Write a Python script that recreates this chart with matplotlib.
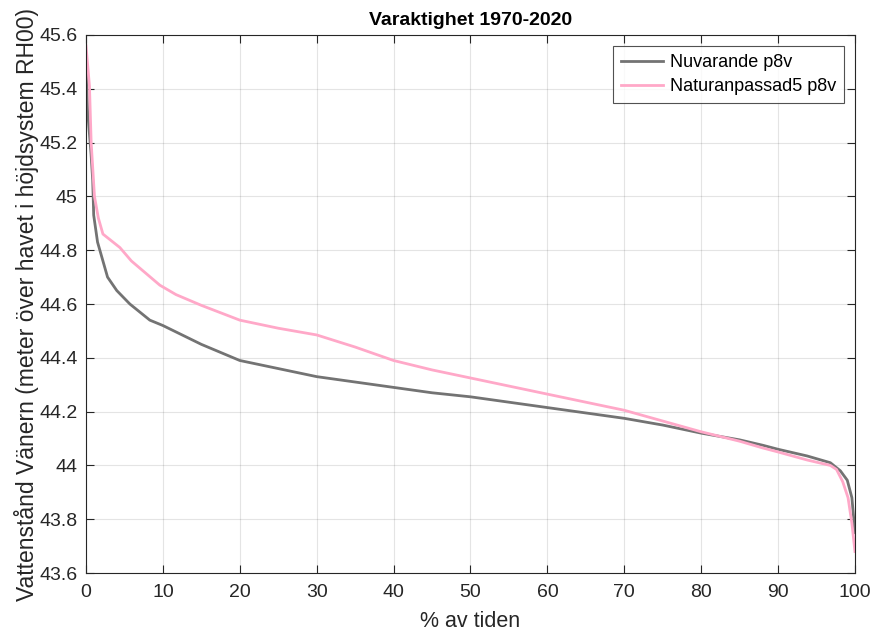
import numpy as np
import matplotlib
matplotlib.use("Agg")
import matplotlib.pyplot as plt
from matplotlib.ticker import FuncFormatter

plt.rcParams['font.family'] = ['Liberation Sans', 'DejaVu Sans']

# duration curves (x = % av tiden, y = level in m)
x_nuv = [0, 0.2, 0.65, 0.87, 1.0, 1.5, 2.8, 4.0, 5.7, 8.3, 10, 15, 20, 25, 30,
         35, 40, 45, 50, 55, 60, 65, 70, 75, 80, 85, 88, 90, 93.8, 96.8, 98.1,
         99.0, 99.6, 100]
y_nuv = [45.50, 45.32, 45.16, 45.06, 44.93, 44.83, 44.70, 44.65, 44.60, 44.54,
         44.52, 44.45, 44.39, 44.36, 44.33, 44.31, 44.29, 44.27, 44.255, 44.235,
         44.215, 44.195, 44.175, 44.15, 44.12, 44.095, 44.075, 44.06, 44.035,
         44.01, 43.98, 43.945, 43.88, 43.75]

x_nat = [0, 0.45, 0.67, 1.1, 1.6, 2.2, 4.4, 5.9, 9.6, 11.7, 15, 20, 25, 30, 35,
         40, 45, 50, 55, 60, 65, 70, 75, 80, 85, 88, 90, 93.8, 96.8, 97.6, 98.4,
         99.1, 99.6, 100]
y_nat = [45.56, 45.41, 45.20, 45.00, 44.92, 44.86, 44.81, 44.76, 44.67, 44.635,
         44.595, 44.54, 44.51, 44.485, 44.44, 44.39, 44.355, 44.325, 44.295,
         44.265, 44.235, 44.205, 44.165, 44.125, 44.09, 44.065, 44.05, 44.02,
         44.0, 43.985, 43.94, 43.88, 43.785, 43.68]

labels = ['Nuvarande p8v', 'Naturanpassad5 p8v']
xticks = np.arange(0, 101, 10)
yticks = np.arange(43.6, 45.61, 0.2)

fig = plt.figure(figsize=(8.75, 6.35), dpi=100)
ax = fig.add_axes([0.0983, 0.0976, 0.8788, 0.8473])

ax.plot(x_nuv, y_nuv, color='#737373', lw=2.0, label=labels[0])
ax.plot(x_nat, y_nat, color='#ffa8c8', lw=2.0, label=labels[1])

ax.set_xlim(0, 100)
ax.set_ylim(43.6, 45.6)
ax.set_xticks(xticks)
ax.set_yticks(yticks)
ax.yaxis.set_major_formatter(FuncFormatter(lambda v, p: '%g' % round(v, 1)))
ax.grid(True, color='#262626', alpha=0.12, lw=0.8)
ax.tick_params(direction='in', length=5.5, width=0.8, top=True, right=True,
               labelsize=14, colors='#262626')
ax.tick_params(axis='x', pad=8)
ax.tick_params(axis='y', pad=6)
for s in ax.spines.values():
    s.set_color('#262626')
    s.set_linewidth(0.8)

ax.set_title('Varaktighet 1970-2020', fontsize=14, fontweight='bold', pad=7)
ax.set_xlabel('% av tiden', fontsize=15.5, color='#262626', labelpad=7)
ax.set_ylabel('Vattenstånd Vänern (meter över havet i höjdsystem RH00)',
              fontsize=16.5, color='#262626', labelpad=0)

leg = ax.legend(loc='upper right', fontsize=13, frameon=True, fancybox=False,
                handlelength=2.3, borderaxespad=0.6, labelspacing=0.4,
                borderpad=0.45, handletextpad=0.4)
leg.get_frame().set_edgecolor('#262626')
leg.get_frame().set_linewidth(0.8)

fig.savefig('out.png', dpi=100)
